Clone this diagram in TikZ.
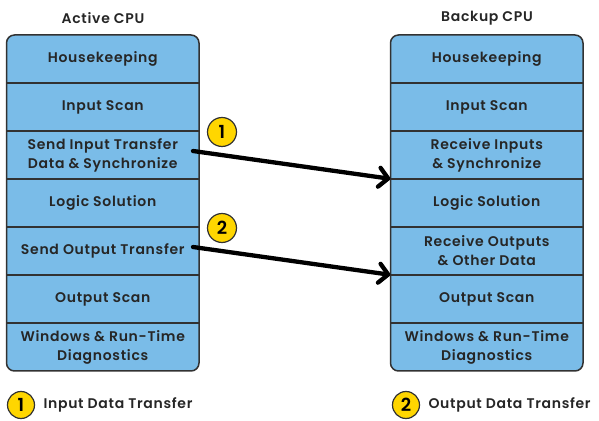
\documentclass[tikz,border=0pt]{standalone}
\usepackage{fontspec}
\setmainfont{Poppins}[UprightFont={* SemiBold},LetterSpace=5]
\usetikzlibrary{arrows.meta}
\definecolor{rowblue}{RGB}{122,188,232}
\definecolor{edgegray}{RGB}{50,50,50}
\definecolor{badge}{RGB}{255,214,0}
\tikzset{
  x=1pt,y=1pt,
  row/.style={minimum width=192.5pt,minimum height=48pt,inner sep=0pt,align=center,font=\fontsize{14}{19}\selectfont,text=black!85},
  cpubox/.style={fill=rowblue,draw=edgegray,line width=1.5pt,rounded corners=8pt},
  divider/.style={draw=edgegray,line width=1.5pt},
  title/.style={font=\fontsize{14}{15}\selectfont,text=black!85},
  num/.style={circle,fill=badge,draw=edgegray,line width=1.2pt,minimum size=29pt,inner sep=0pt,font=\fontsize{18}{18}\selectfont},
  legnum/.style={num,minimum size=27pt},
  legtext/.style={anchor=west,font=\fontsize{14}{15}\selectfont,text=black!85},
  xfer/.style={line width=4.3pt,line cap=round,-{Straight Barb[length=9pt,width=19pt,line width=4.3pt,line cap=round,line join=round]}}
}
\begin{document}
\begin{tikzpicture}
\useasboundingbox (0,0) rectangle (599,420);
% boxes
\draw[cpubox] (6.5,49) rectangle (199,385);
\draw[cpubox] (390.5,49) rectangle (583,385);
% titles
\node[title] (t1) at (103,402) {Active CPU};
\node[title] (t2) at (487,402) {Backup CPU};
% active rows
\node[row] (a1) at (102.75,361) {Housekeeping};
\node[row] (a2) at (102.75,313) {Input Scan};
\node[row] (a3) at (102.75,265) {Send Input Transfer\\Data \& Synchronize};
\node[row] (a4) at (102.75,217) {Logic Solution};
\node[row] (a5) at (102.75,169) {Send Output Transfer};
\node[row] (a6) at (102.75,121) {Output Scan};
\node[row] (a7) at (102.75,73) {Windows \& Run-Time\\Diagnostics};
% backup rows
\node[row] (b1) at (486.75,361) {Housekeeping};
\node[row] (b2) at (486.75,313) {Input Scan};
\node[row] (b3) at (486.75,265) {Receive Inputs\\\& Synchronize};
\node[row] (b4) at (486.75,217) {Logic Solution};
\node[row] (b5) at (486.75,169) {Receive Outputs\\\& Other Data};
\node[row] (b6) at (486.75,121) {Output Scan};
\node[row] (b7) at (486.75,73) {Windows \& Run-Time\\Diagnostics};
% dividers
\foreach \n in {1,...,6}{
  \draw[divider] (a\n.south west) -- (a\n.south east);
  \draw[divider] (b\n.south west) -- (b\n.south east);
}
% badges
\node[num] (c1) at (222,288) {1};
\node[num] (c2) at (222,192) {2};
% arrows
\coordinate (s1) at (193,269);
\coordinate (s2) at (193,173);
\draw[xfer] (s1) -- (b4.north west);
\draw[xfer] (s2) -- (b6.north west);
% legend
\node[legnum] (l1) at (21,15) {1};
\node[legtext] (lt1) at (40,15) {Input Data Transfer};
\node[legnum] (l2) at (406,15) {2};
\node[legtext] (lt2) at (425,15) {Output Data Transfer};
\end{tikzpicture}
\end{document}
